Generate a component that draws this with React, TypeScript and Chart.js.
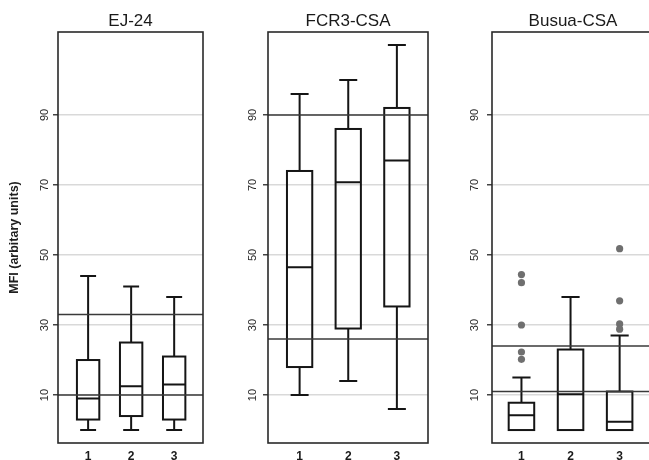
import React, { useEffect, useRef } from 'react';
import { Chart, registerables } from 'chart.js';

Chart.register(...registerables);

// ---------- data ----------
const PANEL_TITLES = ['EJ-24', 'FCR3-CSA', 'Busua-CSA'];
const GROUPS = [1, 2, 3];
const Y_TICKS = [10, 30, 50, 70, 90];
const Y_TITLE = 'MFI (arbitary units)';

// EJ-24
const ej24Min = [0, 0, 0];
const ej24Q1 = [3, 4, 3];
const ej24Median = [9, 12.5, 13];
const ej24Q3 = [20, 25, 21];
const ej24Max = [44, 41, 38];
const ej24Outliers: number[][] = [[], [], []];
const ej24Cutoffs = [33, 10];

// FCR3-CSA
const fcr3Min = [10, 14, 6];
const fcr3Q1 = [18, 29, 35.3];
const fcr3Median = [46.5, 70.8, 77];
const fcr3Q3 = [74, 86, 92];
const fcr3Max = [96, 100, 110];
const fcr3Outliers: number[][] = [[], [], []];
const fcr3Cutoffs = [90, 26];

// Busua-CSA
const busuaMin = [0, 0, 0];
const busuaQ1 = [0, 0, 0];
const busuaMedian = [4.2, 10.2, 2.4];
const busuaQ3 = [7.8, 23, 11];
const busuaMax = [15, 38, 27];
const busuaOutliers: number[][] = [[44.4, 42.1, 30, 22.3, 20.2], [], [51.8, 36.9, 30.3, 28.8]];
const busuaCutoffs = [24, 11];

// ---------- layout / style ----------
const Y_MIN = -3.7;
const Y_MAX = 113.7;
const BOX_W = 0.52;
const CAP_W = 0.37;
const FONT = "'Liberation Sans', Arial, Helvetica, sans-serif";

type PanelDef = {
  title: string;
  min: number[]; q1: number[]; median: number[]; q3: number[]; max: number[];
  outliers: number[][];
  cutoffs: number[];
  left: number; width: number; axisWidth: number; padRight: number;
  xMin: number; xMax: number; tickPad: number; showYTitle: boolean;
};

const PANELS: PanelDef[] = [
  { title: PANEL_TITLES[0], min: ej24Min, q1: ej24Q1, median: ej24Median, q3: ej24Q3, max: ej24Max,
    outliers: ej24Outliers, cutoffs: ej24Cutoffs,
    left: 0, width: 215, axisWidth: 58, padRight: 12, xMin: 0.3, xMax: 3.67, tickPad: 2, showYTitle: true },
  { title: PANEL_TITLES[1], min: fcr3Min, q1: fcr3Q1, median: fcr3Median, q3: fcr3Q3, max: fcr3Max,
    outliers: fcr3Outliers, cutoffs: fcr3Cutoffs,
    left: 215, width: 220, axisWidth: 53, padRight: 7, xMin: 0.35, xMax: 3.64, tickPad: 3.5, showYTitle: false },
  { title: PANEL_TITLES[2], min: busuaMin, q1: busuaQ1, median: busuaMedian, q3: busuaQ3, max: busuaMax,
    outliers: busuaOutliers, cutoffs: busuaCutoffs,
    left: 435, width: 225, axisWidth: 57, padRight: 6, xMin: 0.4, xMax: 3.7, tickPad: 5.5, showYTitle: false },
];

function makeBoxPlugin(p: PanelDef) {
  return {
    id: 'boxes',
    beforeDatasetsDraw(chart: any) {
      const { ctx, scales } = chart;
      const xs = scales.x;
      const ys = scales.y;
      ctx.save();
      ctx.strokeStyle = '#151515';
      ctx.lineWidth = 2;
      ctx.lineCap = 'butt';
      GROUPS.forEach((g, i) => {
        const xc = xs.getPixelForValue(g);
        const xl = xs.getPixelForValue(g - BOX_W / 2);
        const xr = xs.getPixelForValue(g + BOX_W / 2);
        const cl = xs.getPixelForValue(g - CAP_W / 2);
        const cr = xs.getPixelForValue(g + CAP_W / 2);
        const yMin = ys.getPixelForValue(p.min[i]);
        const yQ1 = ys.getPixelForValue(p.q1[i]);
        const yMed = ys.getPixelForValue(p.median[i]);
        const yQ3 = ys.getPixelForValue(p.q3[i]);
        const yMax = ys.getPixelForValue(p.max[i]);
        ctx.beginPath();
        // upper whisker
        ctx.moveTo(xc, yQ3); ctx.lineTo(xc, yMax);
        ctx.moveTo(cl, yMax); ctx.lineTo(cr, yMax);
        // lower whisker
        if (p.min[i] < p.q1[i]) {
          ctx.moveTo(xc, yQ1); ctx.lineTo(xc, yMin);
          ctx.moveTo(cl, yMin); ctx.lineTo(cr, yMin);
        }
        // median
        ctx.moveTo(xl, yMed); ctx.lineTo(xr, yMed);
        ctx.stroke();
        ctx.strokeRect(xl, yQ3, xr - xl, yQ1 - yQ3);
      });
      ctx.restore();
    },
    afterDraw(chart: any) {
      const { ctx, chartArea } = chart;
      ctx.save();
      ctx.strokeStyle = '#2a2a2a';
      ctx.lineWidth = 1.6;
      ctx.strokeRect(chartArea.left, chartArea.top, chartArea.right - chartArea.left, chartArea.bottom - chartArea.top);
      ctx.restore();
    },
  };
}

function Panel({ p }: { p: PanelDef }) {
  const ref = useRef<HTMLCanvasElement>(null);
  useEffect(() => {
    const outlierPts: { x: number; y: number }[] = [];
    p.outliers.forEach((arr, i) => arr.forEach((v) => outlierPts.push({ x: GROUPS[i], y: v })));
    const datasets: any[] = p.cutoffs.map((v) => ({
      data: [{ x: p.xMin, y: v }, { x: p.xMax, y: v }],
      showLine: true,
      borderColor: '#3a3a3a',
      borderWidth: 1.5,
      pointRadius: 0,
      fill: false,
    }));
    datasets.push({
      data: outlierPts,
      pointRadius: 3.6,
      backgroundColor: '#6f6f6f',
      borderWidth: 0,
      showLine: false,
    });
    const chart = new Chart(ref.current!, {
      type: 'scatter',
      data: { datasets },
      options: {
        responsive: false,
        maintainAspectRatio: false,
        animation: false,
        events: [],
        layout: { padding: { left: 0, right: p.padRight, top: 0, bottom: 0 } },
        plugins: {
          legend: { display: false },
          tooltip: { enabled: false },
          title: {
            display: true,
            text: p.title,
            fullSize: false,
            color: '#1a1a1a',
            font: { family: FONT, size: 17, weight: 'normal' },
            padding: { top: 10.8, bottom: 0.8 },
          },
        },
        scales: {
          x: {
            type: 'linear',
            min: p.xMin,
            max: p.xMax,
            afterBuildTicks: (s: any) => { s.ticks = GROUPS.map((v) => ({ value: v })); },
            afterFit: (s: any) => { s.height = 17; },
            grid: { display: false, drawTicks: false },
            border: { display: false },
            ticks: {
              padding: 6,
              color: '#1a1a1a',
              font: { family: FONT, size: 12, weight: 'bold' },
              maxRotation: 0,
              minRotation: 0,
            },
          },
          y: {
            type: 'linear',
            min: Y_MIN,
            max: Y_MAX,
            afterBuildTicks: (s: any) => { s.ticks = Y_TICKS.map((v) => ({ value: v })); },
            afterFit: (s: any) => { s.width = p.axisWidth; },
            grid: {
              color: '#d9d9d9',
              lineWidth: 1.5,
              tickColor: '#444',
              tickLength: 5,
              drawTicks: true,
            },
            border: { display: false },
            title: {
              display: p.showYTitle,
              text: Y_TITLE,
              color: '#1e1e1e',
              font: { family: FONT, size: 12.5, weight: 'bold' },
              padding: { top: 7.5, bottom: 0 },
            },
            ticks: {
              minRotation: 90,
              maxRotation: 90,
              crossAlign: 'center',
              padding: p.tickPad,
              color: '#2a2a2a',
              font: { family: FONT, size: 11 },
            },
          },
        },
      } as any,
      plugins: [makeBoxPlugin(p)],
    });
    return () => chart.destroy();
  }, []);
  return (
    <canvas
      ref={ref}
      width={p.width}
      height={460}
      style={{ position: 'absolute', left: p.left, top: 0, width: p.width, height: 460 }}
    />
  );
}

export default function App() {
  return (
    <div
      style={{
        position: 'absolute',
        left: 0,
        top: 0,
        width: 649,
        height: 460,
        overflow: 'hidden',
        background: '#ffffff',
      }}
    >
      {PANELS.map((p) => (
        <Panel key={p.title} p={p} />
      ))}
    </div>
  );
}
